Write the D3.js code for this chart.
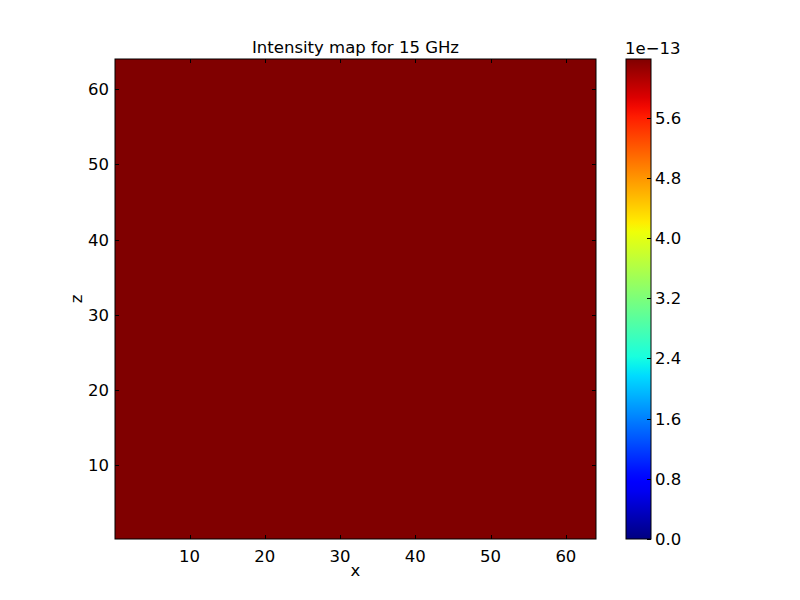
<!DOCTYPE html>
<html>
<head>
<meta charset="utf-8">
<script src="https://cdn.jsdelivr.net/npm/d3@7"></script>
<style>
  body { margin: 0; background: #fff; }
  text { font-family: "DejaVu Sans", sans-serif; }
</style>
</head>
<body>
<div id="plot"></div>
<script>
// intensity grid: 64 x 64 cells, every cell reads as the colour-scale maximum
var nx = 64, nz = 64;
var cellValue = 6.38e-13;
var xTicks = [10, 20, 30, 40, 50, 60];
var zTicks = [10, 20, 30, 40, 50, 60];
var cbarTicks = [0.0, 0.8, 1.6, 2.4, 3.2, 4.0, 4.8, 5.6];
var cbarMin = 0, cbarMax = 6.38;   // in units of 1e-13
var titleText = "Intensity map for 15 GHz";

var width = 800, height = 600;
var fs = 16.5;
var plot = {left: 115, top: 59, right: 596, bottom: 539};
var cbar = {left: 626, right: 651, top: 59, bottom: 539};

var svg = d3.select("#plot").append("svg")
  .attr("width", width)
  .attr("height", height);

function jet(t) {
  function seg(pts) {
    for (var i = 1; i < pts.length; i++) {
      if (t <= pts[i][0]) {
        var a = pts[i - 1], b = pts[i];
        return a[1] + (b[1] - a[1]) * (t - a[0]) / (b[0] - a[0]);
      }
    }
    return pts[pts.length - 1][1];
  }
  var r = seg([[0, 0], [0.35, 0], [0.66, 1], [0.89, 1], [1, 0.5]]);
  var g = seg([[0, 0], [0.125, 0], [0.375, 1], [0.64, 1], [0.91, 0], [1, 0]]);
  var b = seg([[0, 0.5], [0.11, 1], [0.34, 1], [0.65, 0], [1, 0]]);
  return d3.rgb(r * 255, g * 255, b * 255).toString();
}

var x = d3.scaleLinear().domain([0.1, 64]).range([plot.left, plot.right]);
var z = d3.scaleLinear().domain([0.2, 64]).range([plot.bottom, plot.top]);
var color = d3.scaleLinear().domain([cbarMin * 1e-13, cbarMax * 1e-13]).range([0, 1]).clamp(true);

// cells
var cells = [];
d3.range(nz).forEach(function(j) {
  d3.range(nx).forEach(function(i) {
    cells.push({i: i, j: j, v: cellValue});
  });
});
var cx = d3.scaleLinear().domain([0, nx]).range([plot.left, plot.right]);
var cz = d3.scaleLinear().domain([0, nz]).range([plot.bottom, plot.top]);

svg.append("g")
  .attr("shape-rendering", "crispEdges")
  .selectAll("rect")
  .data(cells)
  .enter().append("rect")
  .attr("x", function(d) { return Math.floor(cx(d.i)); })
  .attr("y", function(d) { return Math.floor(cz(d.j + 1)); })
  .attr("width", function(d) { return Math.min(plot.right, Math.ceil(cx(d.i + 1)) + 1) - Math.floor(cx(d.i)); })
  .attr("height", function(d) { return Math.min(plot.bottom, Math.ceil(cz(d.j)) + 1) - Math.floor(cz(d.j + 1)); })
  .attr("fill", function(d) { return jet(color(d.v)); });

// frame
svg.append("rect")
  .attr("x", plot.left).attr("y", plot.top)
  .attr("width", plot.right - plot.left).attr("height", plot.bottom - plot.top)
  .attr("fill", "none").attr("stroke", "#000").attr("stroke-width", 1);

// ticks inside, on all four sides
var tk = svg.append("g").attr("stroke", "#000").attr("stroke-width", 1);
xTicks.forEach(function(t) {
  var px = Math.round(x(t)) + 0.5;
  tk.append("line").attr("x1", px).attr("x2", px).attr("y1", plot.bottom).attr("y2", plot.bottom - 4);
  tk.append("line").attr("x1", px).attr("x2", px).attr("y1", plot.top).attr("y2", plot.top + 4);
});
zTicks.forEach(function(t) {
  var py = Math.round(z(t)) + 0.5;
  tk.append("line").attr("x1", plot.left).attr("x2", plot.left + 4).attr("y1", py).attr("y2", py);
  tk.append("line").attr("x1", plot.right).attr("x2", plot.right - 4).attr("y1", py).attr("y2", py);
});

svg.append("g").selectAll("text")
  .data(xTicks).enter().append("text")
  .attr("x", function(d) { return x(d); })
  .attr("y", plot.bottom + 23)
  .attr("text-anchor", "middle")
  .attr("font-size", fs)
  .text(function(d) { return d; });

svg.append("g").selectAll("text")
  .data(zTicks).enter().append("text")
  .attr("x", plot.left - 6)
  .attr("y", function(d) { return z(d) + 6; })
  .attr("text-anchor", "end")
  .attr("font-size", fs)
  .text(function(d) { return d; });

// labels
svg.append("text")
  .attr("x", (plot.left + plot.right) / 2).attr("y", 53)
  .attr("text-anchor", "middle").attr("font-size", fs)
  .text(titleText);

svg.append("text")
  .attr("x", (plot.left + plot.right) / 2).attr("y", 576)
  .attr("text-anchor", "middle").attr("font-size", fs)
  .text("x");

svg.append("text")
  .attr("transform", "translate(82," + (plot.top + plot.bottom) / 2 + ") rotate(-90)")
  .attr("text-anchor", "middle").attr("font-size", fs)
  .text("z");

// colourbar
var cy = d3.scaleLinear().domain([cbarMin, cbarMax]).range([cbar.bottom, cbar.top]);
var grad = svg.append("defs").append("linearGradient")
  .attr("id", "jetgrad").attr("x1", 0).attr("y1", 1).attr("x2", 0).attr("y2", 0);
d3.range(0, 1.0001, 0.02).forEach(function(t) {
  grad.append("stop").attr("offset", t).attr("stop-color", jet(t));
});
svg.append("rect")
  .attr("x", cbar.left).attr("y", cbar.top)
  .attr("width", cbar.right - cbar.left).attr("height", cbar.bottom - cbar.top)
  .attr("fill", "url(#jetgrad)")
  .attr("stroke", "#000").attr("stroke-width", 1);

cbarTicks.forEach(function(t) {
  var py = Math.round(cy(t)) + 0.5;
  svg.append("line")
    .attr("x1", cbar.right - 4).attr("x2", cbar.right)
    .attr("y1", py).attr("y2", py)
    .attr("stroke", "#000");
});
svg.append("g").selectAll("text")
  .data(cbarTicks).enter().append("text")
  .attr("x", cbar.right + 4)
  .attr("y", function(d) { return cy(d) + 6; })
  .attr("font-size", fs)
  .text(function(d) { return d.toFixed(1); });

svg.append("text")
  .attr("x", cbar.left - 1).attr("y", 54)
  .attr("font-size", fs)
  .text("1e\u221213");
</script>
</body>
</html>
